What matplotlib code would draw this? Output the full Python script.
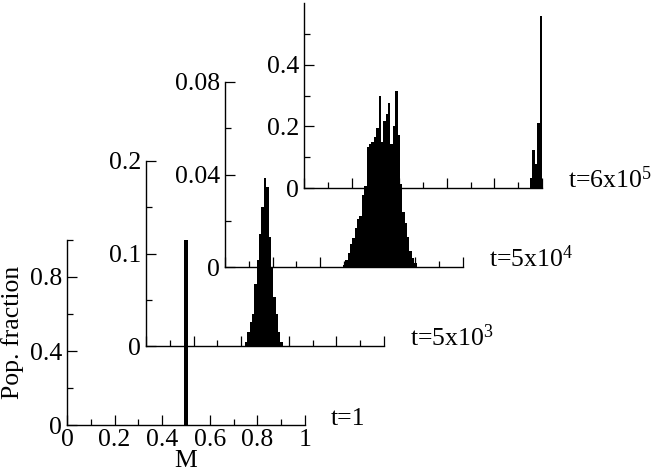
import numpy as np
import matplotlib
matplotlib.use('Agg')
import matplotlib.pyplot as plt

plt.rcParams['font.family'] = ['Liberation Serif', 'DejaVu Serif']
plt.rcParams['mathtext.fontset'] = 'custom'
plt.rcParams['mathtext.rm'] = 'Liberation Serif'
plt.rcParams['mathtext.it'] = 'Liberation Serif'

# histogram data (bin width 0.01 in M)
m_t1 = [0.50]
frac_t1 = [1.0]

m_t2 = [0.42, 0.43, 0.44, 0.45, 0.46, 0.47, 0.48, 0.49, 0.50,
        0.51, 0.52, 0.53, 0.54, 0.55, 0.56, 0.57]
frac_t2 = [0.005, 0.015, 0.026, 0.035, 0.067, 0.093, 0.121, 0.150, 0.181,
           0.172, 0.118, 0.085, 0.053, 0.035, 0.015, 0.005]

m_t3 = [0.50, 0.51, 0.52, 0.53, 0.54, 0.55, 0.56, 0.57, 0.58, 0.59,
        0.60, 0.61, 0.62, 0.63, 0.64, 0.65, 0.66, 0.67, 0.68, 0.69,
        0.70, 0.71, 0.72, 0.73, 0.74, 0.75, 0.76, 0.77, 0.78, 0.79, 0.80]
frac_t3 = [0.001, 0.003, 0.006, 0.010, 0.0125, 0.017, 0.021, 0.022, 0.031, 0.035,
           0.052, 0.053, 0.054, 0.056, 0.060, 0.074, 0.054, 0.063, 0.066, 0.071,
           0.053, 0.061, 0.076, 0.057, 0.036, 0.024, 0.019, 0.013, 0.007, 0.004, 0.002]

m_t4 = [0.955, 0.965, 0.975, 0.985, 0.995]
frac_t4 = [0.034, 0.124, 0.078, 0.21, 0.558]

time_labels = ['t=1', 't=5x10$^3$', 't=5x10$^4$', 't=6x10$^5$']
y_limits = [1.0, 0.2, 0.08, 0.6]
y_major = [[0, 0.4, 0.8], [0, 0.1, 0.2], [0, 0.04, 0.08], [0, 0.2, 0.4]]
y_minor = [[0.2, 0.6, 1.0], [0.05, 0.15], [0.02, 0.06], [0.1, 0.3, 0.5]]
y_ticklabels = [['0', '0.4', '0.8'], ['0', '0.1', '0.2'],
                ['0', '0.04', '0.08'], ['0', '0.2', '0.4']]

x_major = [0, 0.2, 0.4, 0.6, 0.8, 1.0]
x_minor = [0.1, 0.3, 0.5, 0.7, 0.9]
x_ticklabels = ['0', '0.2', '0.4', '0.6', '0.8', '1']

FS = 18.5
W, H = 664, 474

fig = plt.figure(figsize=(W / 100, H / 100), dpi=100)


def make_panel(i, ms, fracs, bar_w=0.01):
    # every panel is shifted 79 px right and 79 px up
    left = (67 + 79 * i) / W
    bottom = (474 - 425.3 + 79 * i) / H
    ax = fig.add_axes([left, bottom, 238 / W, 185.5 / H])
    ax.patch.set_alpha(0)

    # solid filled histogram, one polygon so no seams between bins
    ms = np.asarray(ms)
    edges = np.append(ms - bar_w / 2, ms[-1] + bar_w / 2)
    ax.stairs(fracs, edges, fill=True, color='black', linewidth=0)

    ax.set_xlim(0, 1)
    ax.set_ylim(0, y_limits[i])
    ax.spines['top'].set_visible(False)
    ax.spines['right'].set_visible(False)
    for s in ['left', 'bottom']:
        ax.spines[s].set_linewidth(1.0)

    ax.set_xticks(x_major)
    ax.set_xticks(x_minor, minor=True)
    ax.set_yticks(y_major[i])
    ax.set_yticks(y_minor[i], minor=True)
    ax.set_yticklabels(y_ticklabels[i])
    if i == 0:
        ax.set_xticklabels(x_ticklabels)
    else:
        ax.set_xticklabels([])

    ax.tick_params(which='major', direction='in', length=7, width=0.9,
                   labelsize=FS, pad=3.4)
    ax.tick_params(which='minor', direction='in', length=4, width=0.9)
    ax.tick_params(axis='x', which='major', pad=3)

    ax.text(1.11, 0, time_labels[i], transform=ax.transAxes,
            fontsize=FS, ha='left', va='baseline')
    return ax


ax1 = make_panel(0, m_t1, frac_t1, bar_w=0.016)
make_panel(1, m_t2, frac_t2)
make_panel(2, m_t3, frac_t3)
make_panel(3, m_t4, frac_t4)

ax1.set_ylabel('Pop. fraction', fontsize=FS, labelpad=4)
ax1.set_xlabel('M', fontsize=FS, labelpad=-1)

fig.savefig('out.png', dpi=100)
